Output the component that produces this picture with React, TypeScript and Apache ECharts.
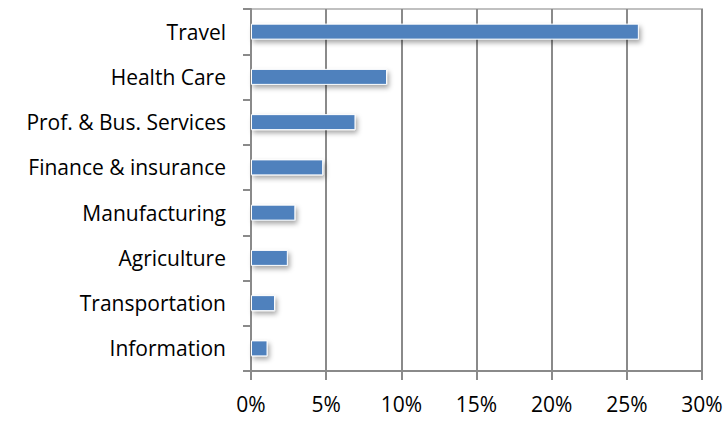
import React, { useEffect, useRef } from "react";
import * as echarts from "echarts";

const categories = [
  "Travel",
  "Health Care",
  "Prof. & Bus. Services",
  "Finance & insurance",
  "Manufacturing",
  "Agriculture",
  "Transportation",
  "Information",
];
const values = [25.8, 9.05, 6.95, 4.8, 2.95, 2.45, 1.6, 1.1];
const xTicks = { min: 0, max: 30, interval: 5 };

export default function App() {
  const ref = useRef<HTMLDivElement>(null);
  useEffect(() => {
    if (!ref.current) return;
    const chart = echarts.init(ref.current, null, { renderer: "svg" });
    const font = "'Open Sans', sans-serif";
    chart.setOption({
      animation: false,
      backgroundColor: "#ffffff",
      grid: {
        left: 251,
        right: 26,
        top: 9,
        bottom: 53,
        show: true,
        borderColor: "#c0c0c0",
        borderWidth: 2,
      },
      xAxis: {
        type: "value",
        min: xTicks.min,
        max: xTicks.max,
        interval: xTicks.interval,
        axisLine: { show: true, lineStyle: { color: "#8a8a8a", width: 2 } },
        axisTick: { show: true, length: 9, lineStyle: { color: "#8a8a8a", width: 2 } },
        splitLine: { show: true, lineStyle: { color: "#8a8a8a", width: 2 } },
        axisLabel: {
          formatter: "{value}%",
          color: "#000",
          fontSize: 21,
          fontFamily: font,
          margin: 22,
        },
      },
      yAxis: {
        type: "category",
        data: categories,
        inverse: true,
        axisLine: { show: true, lineStyle: { color: "#8a8a8a", width: 2 } },
        axisTick: { show: true, length: 8, lineStyle: { color: "#8a8a8a", width: 2 } },
        axisLabel: {
          color: "#000",
          fontSize: 21,
          fontFamily: font,
          margin: 25,
        },
      },
      series: [
        {
          type: "bar",
          data: values,
          barWidth: 16,
          itemStyle: {
            color: "#4f81bd",
            borderColor: "#ffffff",
            borderWidth: 1,
            shadowBlur: 5,
            shadowOffsetX: 2,
            shadowOffsetY: 3,
            shadowColor: "rgba(0,0,0,0.35)",
          },
        },
      ],
    });
    return () => chart.dispose();
  }, []);
  return <div ref={ref} style={{ width: 728, height: 424, position: "absolute", left: 0, top: 0 }} />;
}
